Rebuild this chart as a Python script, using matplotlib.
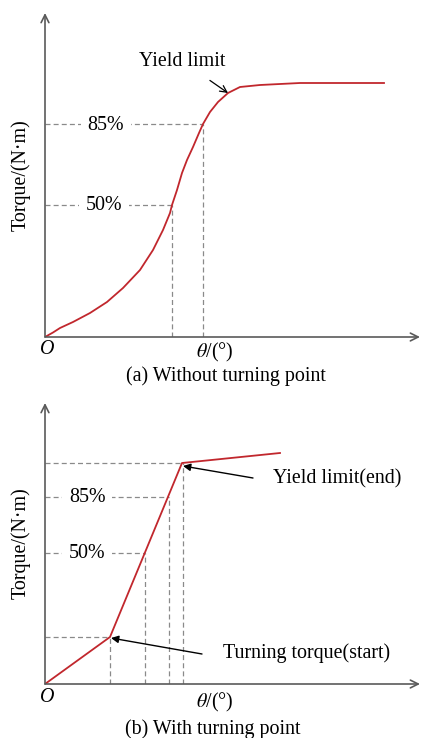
import matplotlib.pyplot as plt

plt.rcParams['font.family'] = ['Liberation Serif', 'DejaVu Serif']
plt.rcParams['mathtext.fontset'] = 'stix'

# (a) smooth torque curve without a turning point
a_theta = [0, 8, 15, 28, 45, 62, 78, 95, 108, 118, 125, 127, 132, 137,
           142, 148, 154, 158, 165, 173, 183, 195, 215, 255, 288, 339]
a_torque = [0, 4.5, 9, 15, 24, 35, 49, 67, 87, 107, 124, 132, 147, 164,
            177, 190, 204, 213, 225, 235, 244, 250, 252, 254, 254, 254]
a_levels = ['50%', '85%']
a_level_torque = [132, 213]
a_level_theta = [127, 158]
a_yield = (183, 244)

# (b) piecewise curve with a turning point
b_theta = [0, 65, 137, 235]
b_torque = [0, 47, 221, 231]
b_levels = ['50%', '85%']
b_level_torque = [131, 187]
b_level_theta = [100, 124]

W, H = 422, 738
fig = plt.figure(figsize=(W / 100, H / 100), dpi=100)

red = '#c1272d'
gray = '#8a8a8a'
axis_col = '#5a5a5a'
fs = 14.4


def make_axes(origin_y, top_y, label_dy):
    ax = fig.add_axes([45 / W, (H - origin_y) / H, 375 / W, (origin_y - top_y) / H])
    ax.set_xlim(0, 375)
    ax.set_ylim(0, origin_y - top_y)
    ax.axis('off')
    # axes with open arrow heads
    ax.annotate('', xy=(375, 0), xytext=(0, 0),
                arrowprops=dict(arrowstyle='->', color=axis_col, lw=1.2,
                                shrinkA=0, shrinkB=0, mutation_scale=14))
    ax.annotate('', xy=(0, origin_y - top_y), xytext=(0, 0),
                arrowprops=dict(arrowstyle='->', color=axis_col, lw=1.2,
                                shrinkA=0, shrinkB=0, mutation_scale=14))
    ax.text(2, -13, 'O', style='italic', fontsize=fs, ha='center', va='center')
    ax.text(170, label_dy, r'$\theta$/(°)', fontsize=fs, ha='center', va='center')
    ax.text(-24, (origin_y - top_y) / 2, 'Torque/(N·m)', fontsize=fs,
            rotation=90, ha='center', va='center')
    return ax


def dashed(ax, xs, ys):
    ax.plot(xs, ys, color=gray, lw=0.9, ls=(0, (4, 2.5)))


# ---- panel (a)
ax1 = make_axes(337, 13, -15)
for lab, yv, xv, lx in zip(a_levels, a_level_torque, a_level_theta, [59, 61]):
    dashed(ax1, [0, xv], [yv, yv])
    dashed(ax1, [xv, xv], [0, yv])
    ax1.text(lx, yv - 1, lab, fontsize=fs, ha='center', va='center',
             bbox=dict(fc='white', ec='none', pad=5))
ax1.plot(a_theta, a_torque, color=red, lw=1.3)
ax1.annotate('Yield limit', xy=a_yield, xytext=(137, 276), fontsize=fs,
             ha='center', va='center',
             arrowprops=dict(arrowstyle='->', color='black', lw=0.9,
                             shrinkA=9, shrinkB=0, mutation_scale=12))
ax1.text(181, -39, '(a) Without turning point', fontsize=fs, ha='center', va='center')

# ---- panel (b)
ax2 = make_axes(684, 403, -18)
dashed(ax2, [0, b_theta[1]], [b_torque[1]] * 2)
dashed(ax2, [b_theta[1]] * 2, [0, b_torque[1]])
dashed(ax2, [0, b_theta[2]], [b_torque[2]] * 2)
dashed(ax2, [b_theta[2] + 1] * 2, [0, b_torque[2]])
for lab, yv, xv in zip(b_levels, b_level_torque, b_level_theta):
    dashed(ax2, [0, xv], [yv, yv])
    dashed(ax2, [xv, xv], [0, yv])
    ax2.text(42, yv - 1, lab, fontsize=fs, ha='center', va='center',
             bbox=dict(fc='white', ec='none', pad=5))
ax2.plot(b_theta, b_torque, color=red, lw=1.3)
ax2.annotate('', xy=(b_theta[2] + 1, b_torque[2] - 3), xytext=(208, 206),
             arrowprops=dict(arrowstyle='-|>', color='black', lw=1.0,
                             shrinkA=0, shrinkB=0, mutation_scale=11))
ax2.text(228, 205, 'Yield limit(end)', fontsize=fs, ha='left', va='center')
ax2.annotate('', xy=(b_theta[1] + 1, b_torque[1] - 1), xytext=(157, 30),
             arrowprops=dict(arrowstyle='-|>', color='black', lw=1.0,
                             shrinkA=0, shrinkB=0, mutation_scale=11))
ax2.text(178, 31, 'Turning torque(start)', fontsize=fs, ha='left', va='center')
ax2.text(168, -45, '(b) With turning point', fontsize=fs, ha='center', va='center')

fig.savefig('out.png', dpi=100)
